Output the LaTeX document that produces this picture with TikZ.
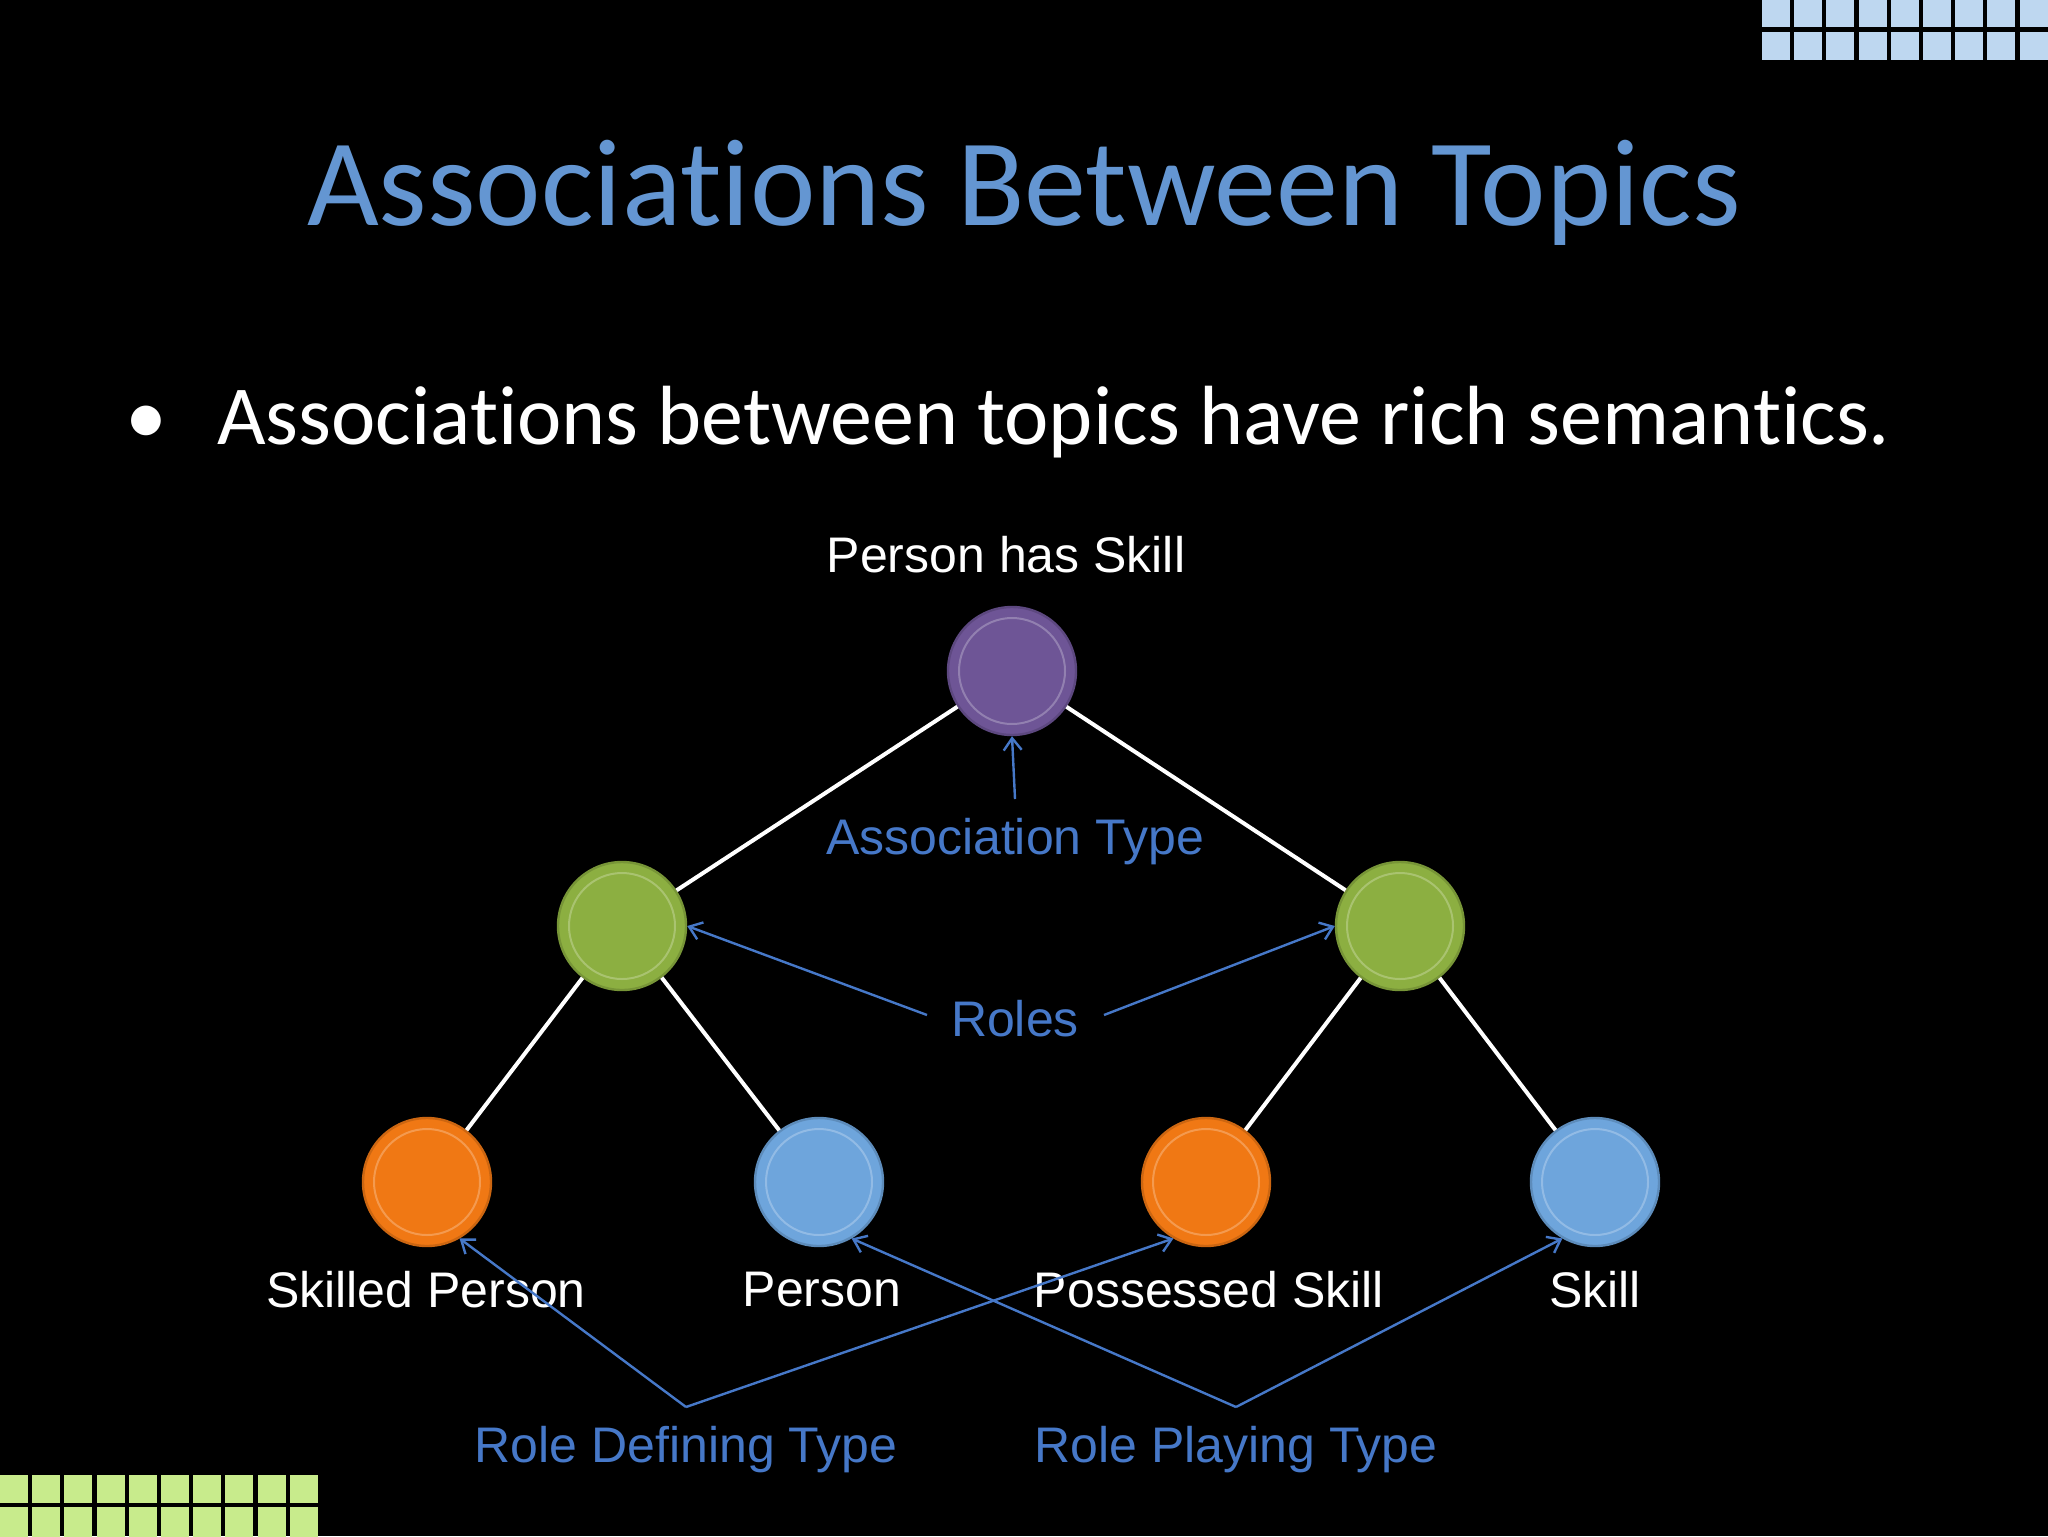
\documentclass[tikz,border=0pt]{standalone}
\usepackage{fontspec}
\usetikzlibrary{arrows.meta}
\setmainfont{Liberation Sans}
\newfontfamily\calfont[Ligatures=NoCommon]{Carlito}
\begin{document}
\begin{tikzpicture}[x=0.5pt,y=-0.5pt]
\definecolor{ttl}{RGB}{100,150,210}
\definecolor{lbl}{RGB}{70,120,200}
\definecolor{gb}{RGB}{190,215,240}
\definecolor{gg}{RGB}{200,235,140}
\definecolor{cpur}{RGB}{110,85,150}
\definecolor{cgrn}{RGB}{140,175,65}
\definecolor{corg}{RGB}{240,120,20}
\definecolor{cblu}{RGB}{110,165,220}
\tikzset{
 ball/.style={circle,minimum size=64pt,inner sep=0,fill=#1,draw=#1!85!black,line width=1.2pt,
   path picture={\draw[#1!75!white,line width=1pt] (path picture bounding box.center) circle[radius=53];}},
 wl/.style={draw=white,line width=2pt},
 bl/.style={draw=lbl,line width=1.2pt,-{Straight Barb[length=6pt,width=9pt]}},
 lab/.style={text=white,font=\fontsize{25}{30}\selectfont},
 blab/.style={text=lbl,font=\fontsize{25}{30}\selectfont}
}
\fill[black] (0,0) rectangle (2048,1536);
\useasboundingbox (0,0) rectangle (2048,1536);
\foreach \i in {0,...,8}{
 \fill[gb] (1762+\i*32.2,-5) rectangle ++(28,32);
 \fill[gb] (1762+\i*32.2,32) rectangle ++(28,28);}
\foreach \i in {0,...,9}{
 \fill[gg] (\i*32.2,1475) rectangle ++(28,28);
 \fill[gg] (\i*32.2,1507) rectangle ++(28,30);}
\node[text=ttl,font=\calfont\fontsize{62}{70}\selectfont] (title) at (1024,193) {Associations Between Topics};
\node[text=white,font=\calfont\fontsize{42}{50}\selectfont,anchor=west] (bul) at (118,422) {\textbullet\hspace{0.6em}Associations between topics have rich semantics.};
\node[ball=cpur] (p) at (1012,671) {};
\node[ball=cgrn] (g1) at (622,926) {};
\node[ball=cgrn] (g2) at (1400,926) {};
\node[ball=corg] (o1) at (427,1182) {};
\node[ball=cblu] (b1) at (819,1182) {};
\node[ball=corg] (o2) at (1206,1182) {};
\node[ball=cblu] (b2) at (1595,1182) {};
\draw[wl] (p) -- (g1); \draw[wl] (p) -- (g2);
\draw[wl] (g1) -- (o1); \draw[wl] (g1) -- (b1);
\draw[wl] (g2) -- (o2); \draw[wl] (g2) -- (b2);
\node[lab] (tp) at (1006,555) {Person has Skill};
\node[lab] (l1) at (426,1290) {Skilled Person};
\node[lab] (l2) at (822,1290) {Person};
\node[lab] (l3) at (1209,1290) {Possessed Skill};
\node[lab] (l4) at (1595,1290) {Skill};
\node[blab] (at) at (1015,842) {Association Type};
\node[blab] (ro) at (1015,1019) {Roles};
\node[blab] (rd) at (686,1450) {Role Defining Type};
\node[blab] (rp) at (1236,1450) {Role Playing Type};
\coordinate (vd) at (686,1407);
\coordinate (vp) at (1236,1407);
\coordinate (ac) at (1015,799);
\coordinate (r1) at (927,1015);
\coordinate (r2) at (1104,1015);
\draw[bl] (ac) -- (p.south);
\draw[bl] (r1) -- (g1.east);
\draw[bl] (r2) -- (g2.west);
\draw[bl] (vd) -- (o1.-60);
\draw[bl] (vd) -- (o2.-120);
\draw[bl] (vp) -- (b1.-60);
\draw[bl] (vp) -- (b2.-120);
\end{tikzpicture}
\end{document}
